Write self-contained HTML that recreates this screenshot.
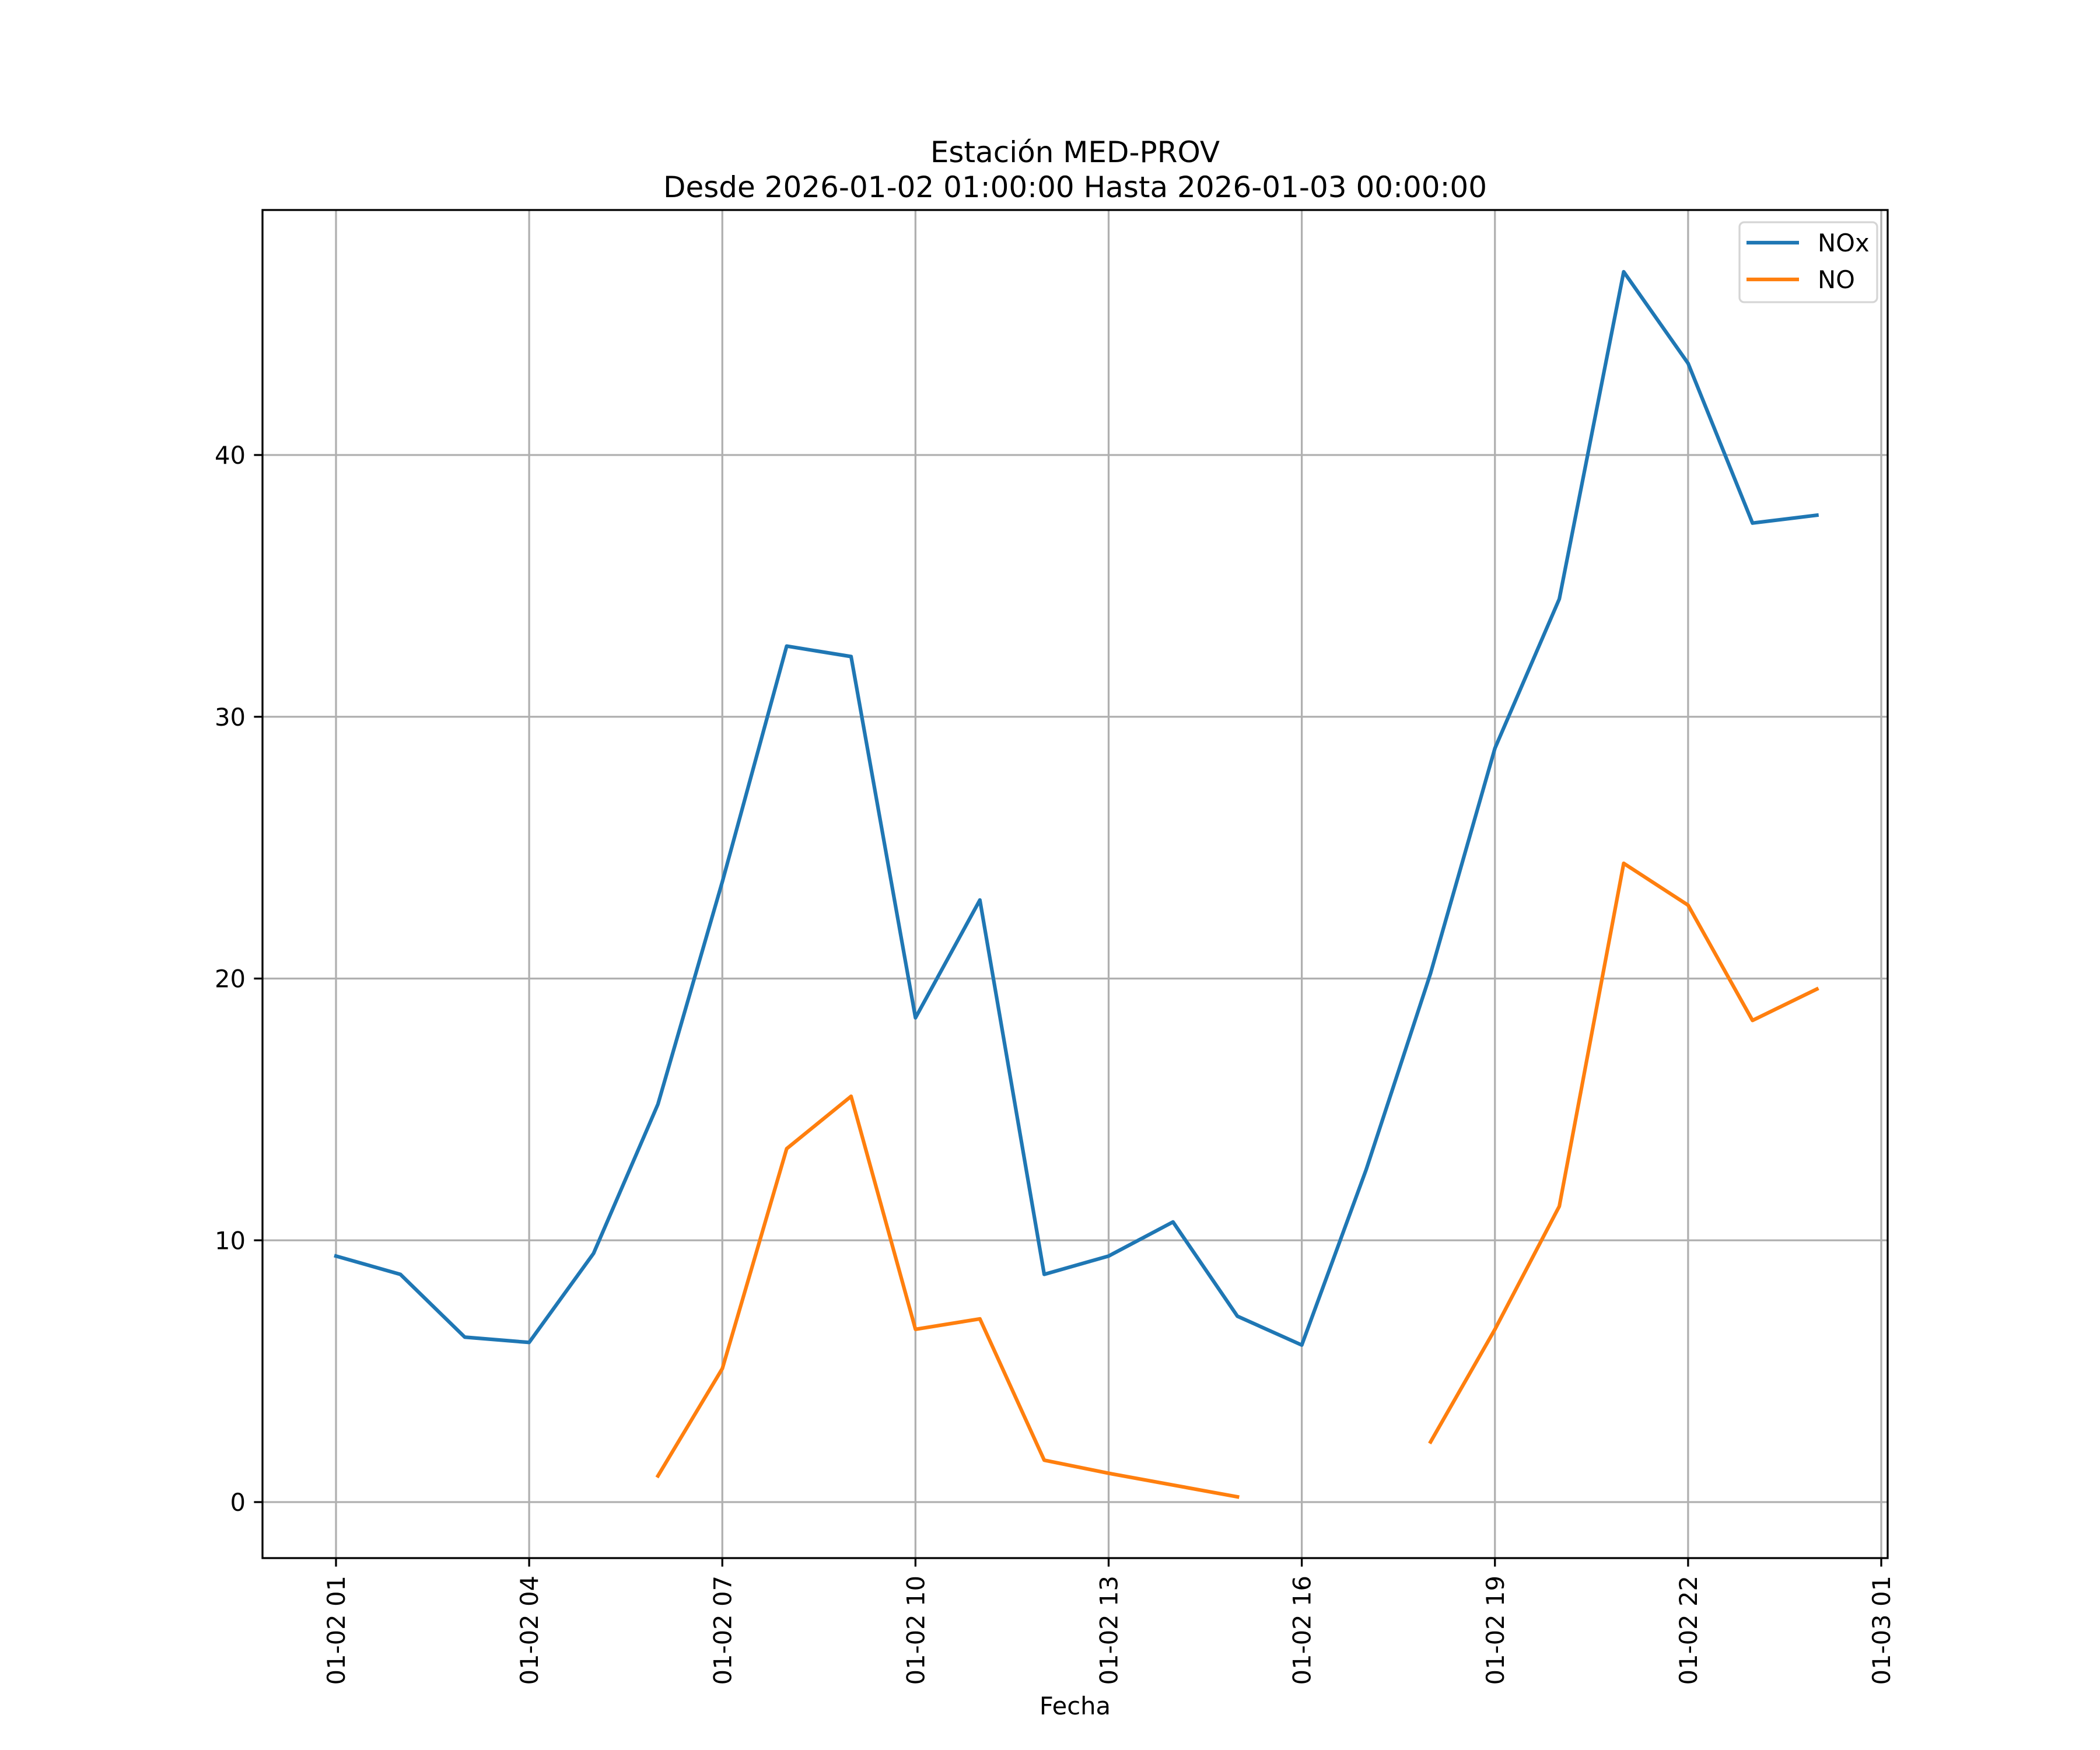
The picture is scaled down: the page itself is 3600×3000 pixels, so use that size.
<!DOCTYPE html>
<html><head><meta charset="utf-8"><style>html,body{margin:0;padding:0;background:#fff}svg{display:block}text{font-family:"DejaVu Sans","Liberation Sans",sans-serif;fill:#000}</style></head>
<body>
<svg id="chart" width="3600" height="3000" viewBox="0 0 3600 3000" xmlns="http://www.w3.org/2000/svg">
<text x="1843" y="278" font-size="50" text-anchor="middle">Estación MED-PROV</text>
<text x="1843" y="338" font-size="50" text-anchor="middle">Desde 2026-01-02 01:00:00 Hasta 2026-01-03 00:00:00</text>
<g id="grid"></g><g id="series"></g><g id="axes"></g>
<text x="1843" y="2939" font-size="41.7" text-anchor="middle">Fecha</text>
<g>
<rect x="2982" y="381" width="236" height="137" rx="8" fill="#fff" stroke="#d5d5d5" stroke-width="3.3"/>
<line x1="2994" y1="416" x2="3084" y2="416" stroke="#1f77b4" stroke-width="6.25"/>
<text x="3116" y="431" font-size="41.7">NOx</text>
<line x1="2994" y1="479" x2="3084" y2="479" stroke="#ff7f0e" stroke-width="6.25"/>
<text x="3116" y="494" font-size="41.7">NO</text>
</g>
</svg>
<script>
const hours = [1,2,3,4,5,6,7,8,9,10,11,12,13,14,15,16,17,18,19,20,21,22,23,24];
const noxValues = [9.4,8.7,6.3,6.1,9.5,15.2,23.7,32.7,32.3,18.5,23.0,8.7,9.4,10.7,7.1,6.0,12.7,20.2,28.8,34.5,47.0,43.5,37.4,37.7];
const noValues = [null,null,null,null,null,1.0,5.1,13.5,15.5,6.6,7.0,1.6,1.1,0.65,0.2,null,null,2.3,6.6,11.3,24.4,22.8,18.4,19.6];
const yTicks = [0,10,20,30,40];
const xTickHours = [1,4,7,10,13,16,19,22,25];
const xTickLabels = ["01-02 01","01-02 04","01-02 07","01-02 10","01-02 13","01-02 16","01-02 19","01-02 22","01-03 01"];
const L=450,R=3236,T=360,B=2671;
const xs=h=>576+(h-1)*(3225-576)/24;
const ys=v=>2575-v*(2575-780)/40;
const NS="http://www.w3.org/2000/svg";
function mk(tag,attrs,parent){const e=document.createElementNS(NS,tag);for(const k in attrs)e.setAttribute(k,attrs[k]);parent.appendChild(e);return e;}
const grid=document.getElementById('grid'),axes=document.getElementById('axes'),ser=document.getElementById('series');
yTicks.forEach(v=>{
 const g=mk('line',{x1:L,x2:R,y1:ys(v),y2:ys(v),stroke:'#b0b0b0','stroke-width':3.3},grid);
 
 
 const t=mk('line',{x1:L-14.6,x2:L,y1:ys(v),y2:ys(v),stroke:'#000','stroke-width':3.3},axes);
 
 
 const tx=mk('text',{x:L-29,y:ys(v)+15,'font-size':41.7,'text-anchor':'end'},axes);
 tx.textContent=v;
 
 
});
xTickHours.forEach((h,i)=>{
 const g=mk('line',{x1:xs(h),x2:xs(h),y1:T,y2:B,stroke:'#b0b0b0','stroke-width':3.3},grid);
 
 
 const t=mk('line',{x1:xs(h),x2:xs(h),y1:B,y2:B+14.6,stroke:'#000','stroke-width':3.3},axes);
 
 
 const tx=mk('text',{x:0,y:0,'font-size':41.7,'text-anchor':'end',transform:`translate(${xs(h)+15},2701) rotate(-90)`},axes);
 tx.textContent=xTickLabels[i];
 
 
});
const fr=mk('rect',{x:L,y:T,width:R-L,height:B-T,fill:'none',stroke:'#000','stroke-width':3.3},axes);


function draw(vals,color,name){
 let segs=[],cur=[];
 vals.forEach((v,i)=>{if(v===null){if(cur.length)segs.push(cur);cur=[];}else cur.push(xs(hours[i]).toFixed(1)+','+ys(v).toFixed(1));});
 if(cur.length)segs.push(cur);
 segs.forEach(s=>{
  const p=mk('polyline',{points:s.join(' '),fill:'none',stroke:color,'stroke-width':6.25,'stroke-linejoin':'round','stroke-linecap':'square'},ser);
  
  
 });
}
draw(noxValues,'#1f77b4','nox-line');
draw(noValues,'#ff7f0e','no-line');
</script>
</body></html>
